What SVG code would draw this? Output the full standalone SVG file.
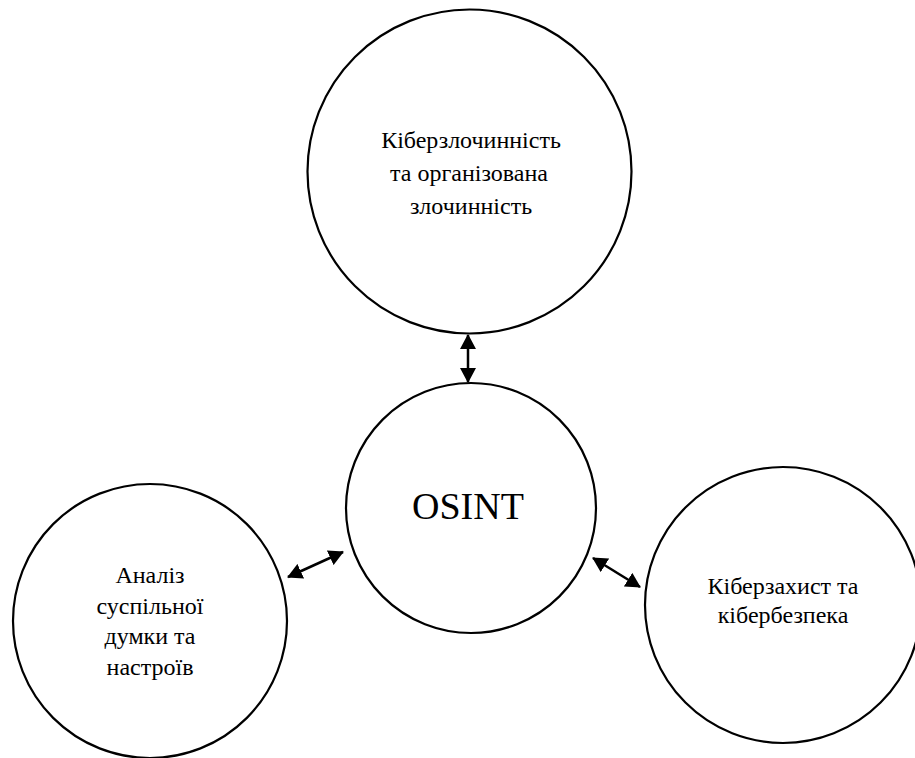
<svg xmlns="http://www.w3.org/2000/svg" width="915" height="758" viewBox="0 0 915 758">
<style>
.node circle{fill:#fff;stroke:#000;stroke-width:2.2}
.lbl{font-family:"Liberation Serif","Times New Roman",serif;font-size:24px;fill:#000;text-anchor:middle}
.big{font-family:"Liberation Serif","Times New Roman",serif;font-size:38px;fill:#000;text-anchor:middle}
.conn line{stroke:#000;stroke-width:2.5;marker-start:url(#ah);marker-end:url(#ah)}
</style>
<defs>
<marker id="ah" viewBox="0 0 15 16" refX="14" refY="8" markerWidth="15" markerHeight="16" markerUnits="userSpaceOnUse" orient="auto-start-reverse">
<path d="M0,0 L15,8 L0,16 Z" fill="#000"/>
</marker>
</defs>
<rect width="915" height="758" fill="#fff"/>
<g id="node-top" class="node">
<circle cx="469.5" cy="171.5" r="162"/>
<text class="lbl" x="471" y="148">Кіберзлочинність</text>
<text class="lbl" x="469" y="181">та організована</text>
<text class="lbl" x="471" y="214">злочинність</text>
</g>
<g id="node-osint" class="node">
<circle cx="471" cy="508" r="125"/>
<text class="big" x="468" y="519">OSINT</text>
</g>
<g id="node-left" class="node">
<circle cx="150" cy="621" r="137"/>
<text class="lbl" x="150" y="583">Аналіз</text>
<text class="lbl" x="150" y="614">суспільної</text>
<text class="lbl" x="150" y="644">думки та</text>
<text class="lbl" x="150" y="675">настроїв</text>
</g>
<g id="node-right" class="node">
<circle cx="783" cy="605" r="138"/>
<text class="lbl" x="783" y="594">Кіберзахист та</text>
<text class="lbl" x="783" y="623">кібербезпека</text>
</g>
<g id="connectors" class="conn">
<line x1="468" y1="335" x2="468" y2="382"/>
<line x1="288" y1="577" x2="343" y2="552"/>
<line x1="593" y1="558" x2="640" y2="587"/>
</g>
</svg>
